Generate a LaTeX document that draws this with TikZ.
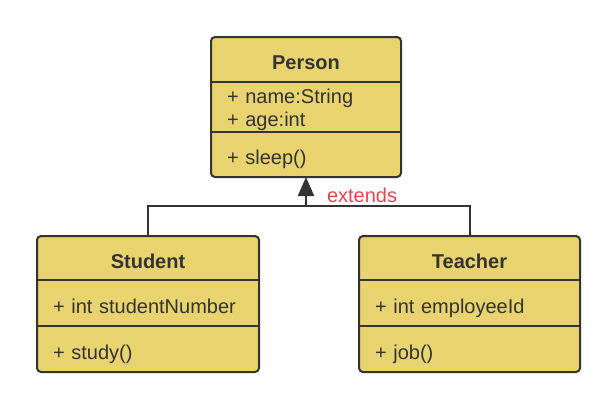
\documentclass[tikz,border=0pt]{standalone}
\usepackage{fontspec}
\setmainfont{Liberation Sans}
\usetikzlibrary{positioning,arrows.meta,backgrounds}

\definecolor{boxfill}{HTML}{E8D36E}
\definecolor{boxline}{HTML}{333333}
\definecolor{extred}{HTML}{E0474C}

\begin{document}
\begin{tikzpicture}[x=1pt, y=-1pt, line width=2pt, draw=boxline,
    every node/.style={inner sep=0pt, outer sep=0pt, text=boxline,
      font=\fontsize{20}{23}\selectfont},
    head/.style={minimum height=44pt, text height=20.5pt, text depth=0pt},
    part/.style={minimum height=46pt, inner xsep=16pt, align=left, text width=#1},
    row/.style={part=#1, text height=20.5pt, text depth=0pt},
    classbox/.style={draw=boxline, fill=boxfill, line width=2pt, rounded corners=4pt},
    extends/.style={-{Triangle[length=19pt, width=16pt]}}]
    \useasboundingbox (0,0) rectangle (616,408);

    % Person
    \node[head, minimum width=190pt, minimum height=45pt] (P) at (306, 59.5) {\bfseries Person};
    \node[part=158pt, minimum height=50pt, below=0pt of P] (Pa) {\rule{0pt}{20.5pt}+ name:String\\+ age:int};
    \node[row=158pt, minimum height=45pt, below=0pt of Pa] (Pm) {+ sleep()};

    % Student
    \node[head, minimum width=222pt] (S) at (148, 258) {\bfseries Student};
    \node[row=190pt, below=0pt of S] (Sa) {+ int studentNumber};
    \node[row=190pt, below=0pt of Sa] (Sm) {+ study()};

    % Teacher
    \node[head, minimum width=221pt] (T) at (469.5, 258) {\bfseries Teacher};
    \node[row=189pt, below=0pt of T] (Ta) {+ int employeeId};
    \node[row=189pt, below=0pt of Ta] (Tm) {+ job()};

    \begin{scope}[on background layer]
      \draw[classbox] (P.north west) rectangle (Pm.south east);
      \draw[classbox] (S.north west) rectangle (Sm.south east);
      \draw[classbox] (T.north west) rectangle (Tm.south east);
    \end{scope}
    \draw (Pa.north west) -- (Pa.north east);
    \draw (Pm.north west) -- (Pm.north east);
    \draw (Sa.north west) -- (Sa.north east);
    \draw (Sm.north west) -- (Sm.north east);
    \draw (Ta.north west) -- (Ta.north east);
    \draw (Tm.north west) -- (Tm.north east);

    % inheritance
    \coordinate (J) at (Pm.south |- 0,206);
    \draw (S.north) |- (J);
    \draw (T.north) |- (J);
    \draw[extends] (J) -- (Pm.south);
    \node[anchor=west, text=extred] (ext) at (327, 195) {extends};
\end{tikzpicture}
\end{document}
